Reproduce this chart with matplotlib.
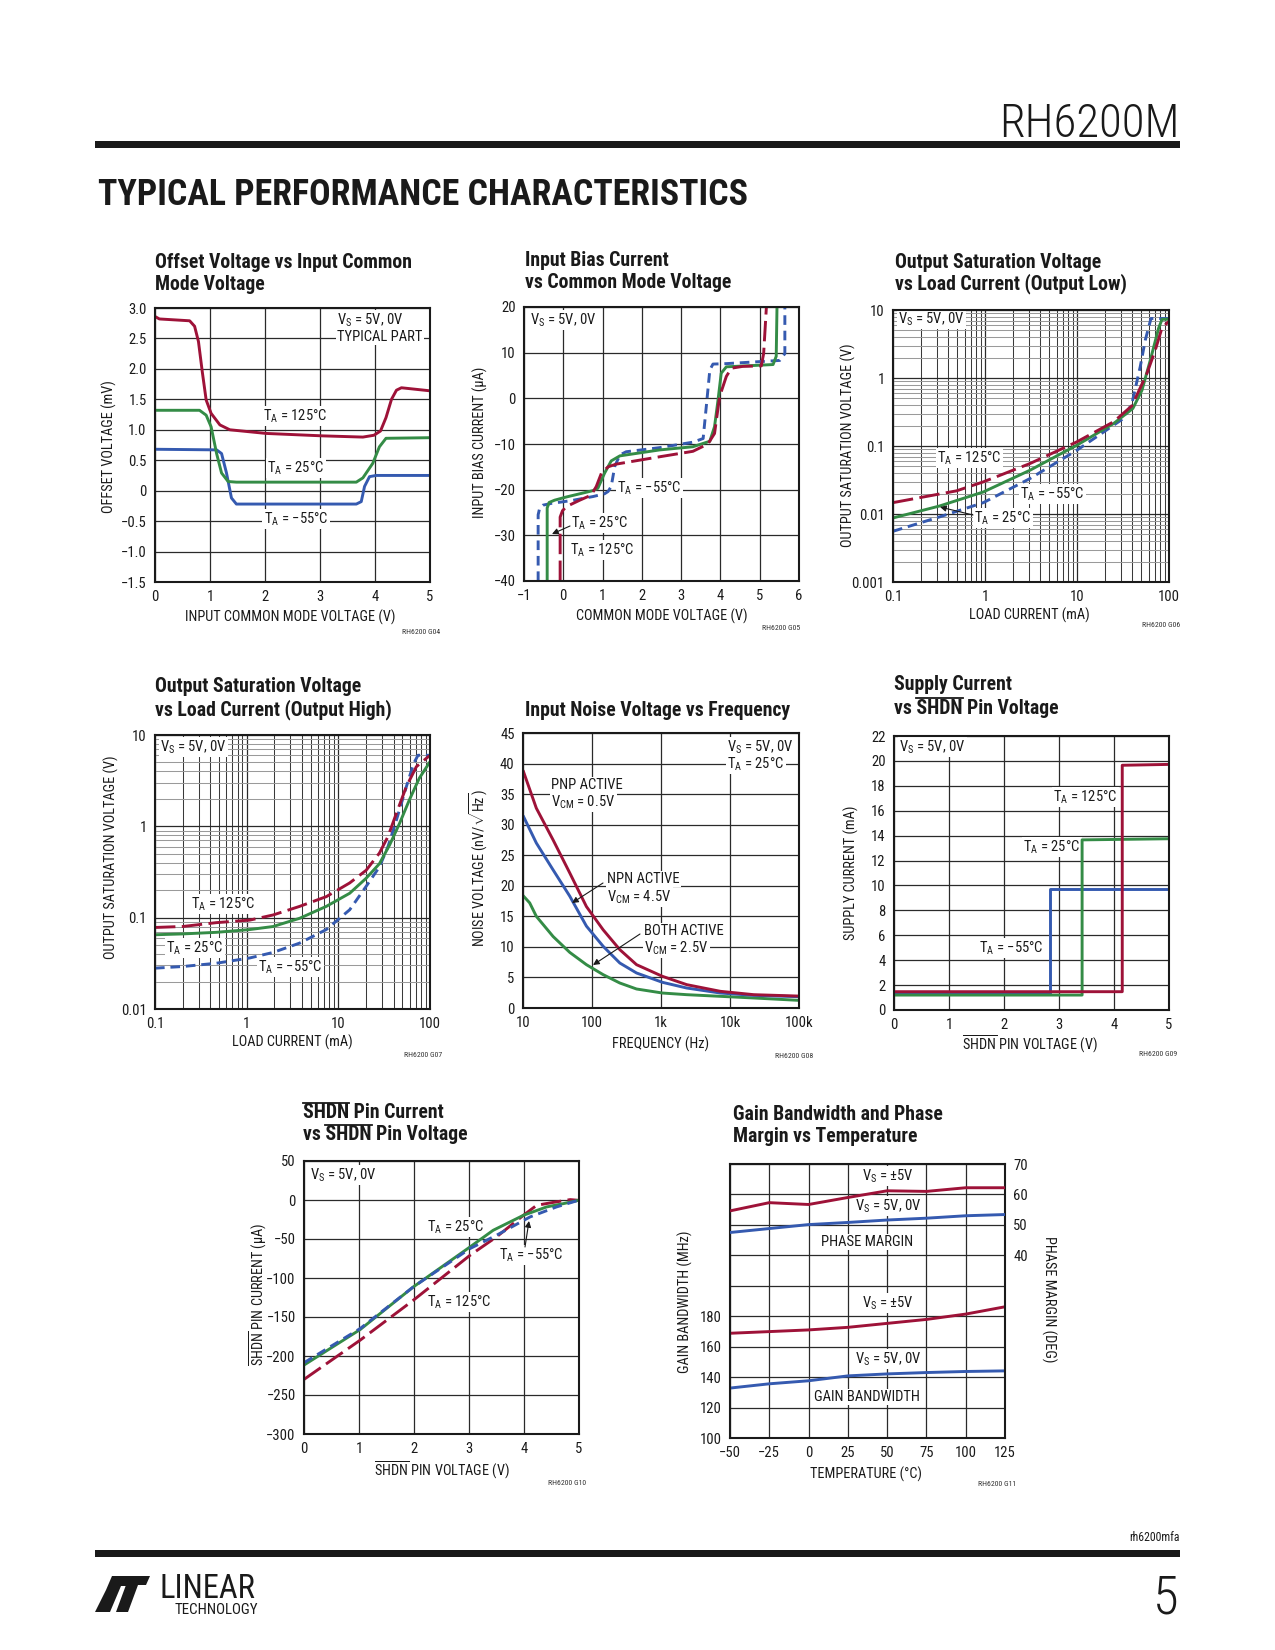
import matplotlib
matplotlib.use('Agg')
import matplotlib.pyplot as plt
from matplotlib import font_manager as fm
from matplotlib.ticker import FixedLocator, NullFormatter, LogLocator
from matplotlib.patches import Rectangle, Polygon
from matplotlib.lines import Line2D

# ======================= DATA =======================
# Chart 1: Offset voltage vs input common mode voltage (V, mV)
vos_x_125 = [0, 0.08, 0.63, 0.72, 0.79, 0.86, 0.93, 1.02, 1.18, 1.36, 2.02, 3.05, 3.78, 3.98, 4.1, 4.2, 4.3, 4.39, 4.48, 5.0]
vos_y_125 = [2.86, 2.82, 2.79, 2.7, 2.45, 1.95, 1.49, 1.27, 1.08, 1.0, 0.94, 0.9, 0.88, 0.91, 0.98, 1.2, 1.5, 1.65, 1.69, 1.64]
vos_x_25 = [0, 0.81, 0.93, 1.02, 1.12, 1.21, 1.33, 1.48, 3.66, 3.78, 3.96, 4.08, 4.2, 5.0]
vos_y_25 = [1.32, 1.32, 1.24, 1.05, 0.61, 0.29, 0.15, 0.14, 0.14, 0.21, 0.45, 0.72, 0.86, 0.87]
vos_x_m55 = [0, 1.12, 1.21, 1.3, 1.39, 1.48, 3.66, 3.75, 3.81, 3.9, 4.02, 5.0]
vos_y_m55 = [0.68, 0.67, 0.61, 0.29, -0.12, -0.22, -0.22, -0.18, 0.07, 0.23, 0.25, 0.25]

# Chart 2: Input bias current vs common mode voltage (V, uA)
ib_x_m55 = [-0.64, -0.64, -0.6, -0.52, -0.3, 0.2, 0.76, 1.05, 1.14, 1.22, 1.31, 1.44, 1.6, 2.45, 3.3, 3.56, 3.64, 3.73, 3.81, 4.15, 5.51, 5.64, 5.64]
ib_y_m55 = [-40, -25.5, -24.0, -23.4, -23.0, -22.4, -21.5, -20.9, -20.4, -19.3, -14.9, -12.4, -11.7, -10.8, -9.6, -8.8, -1.8, 6.2, 7.5, 7.6, 8.3, 9.8, 20]
ib_x_25 = [-0.41, -0.41, -0.36, -0.22, 0.08, 0.76, 0.88, 1.05, 1.22, 1.44, 2.45, 3.3, 3.73, 3.85, 3.94, 4.02, 4.15, 5.34, 5.42, 5.44]
ib_y_25 = [-40, -24, -22.8, -22.3, -21.6, -20.2, -19.7, -16.4, -13.7, -12.6, -11.3, -10.6, -9.4, -6.2, -0.3, 5.5, 6.9, 7.4, 9.2, 20]
ib_x_125 = [-0.08, -0.08, -0.02, 0.08, 0.42, 0.71, 0.84, 0.97, 1.14, 1.35, 2.45, 3.3, 3.68, 3.85, 3.98, 4.15, 4.28, 4.57, 5.04, 5.1, 5.17]
ib_y_125 = [-40, -26, -24.6, -23.7, -22.3, -21.2, -19.3, -16.4, -15, -14.4, -12.8, -11.6, -10, -7.7, 0.4, 4.8, 6.6, 7.0, 7.1, 9.8, 20]

# Chart 3: Output saturation voltage, output low (mA, V)
vol_x_125 = [0.1, 0.49, 0.96, 3.08, 9.96, 25, 39.5, 57.6, 71, 84, 100]
vol_y_125 = [0.0147, 0.0219, 0.0297, 0.0552, 0.115, 0.227, 0.39, 1.17, 2.58, 5.5, 6.8]
vol_x_25 = [0.1, 0.32, 0.96, 3.08, 10, 25, 40.5, 50.8, 62.7, 77, 84, 100]
vol_y_25 = [0.00875, 0.0131, 0.0211, 0.044, 0.103, 0.214, 0.357, 0.66, 1.84, 5.37, 7.3, 7.3]
vol_x_m55 = [0.1, 0.32, 0.96, 3.08, 10, 32, 39.5, 48.7, 55.2, 63.7, 100]
vol_y_m55 = [0.00557, 0.00906, 0.0147, 0.0332, 0.0869, 0.254, 0.42, 1.47, 3.6, 7.5, 7.5]

# Chart 4: Output saturation voltage, output high (mA, V)
voh_x_125 = [0.1, 0.202, 0.467, 1.08, 1.94, 3.79, 7.4, 13.3, 20.1, 28.1, 34.8, 43, 55.2, 71, 96, 100]
voh_y_125 = [0.0781, 0.0801, 0.0882, 0.094, 0.107, 0.133, 0.17, 0.24, 0.33, 0.51, 0.773, 1.39, 2.72, 4.5, 5.8, 5.9]
voh_x_25 = [0.1, 0.202, 0.467, 1.08, 1.94, 3.79, 7.4, 13.3, 20.1, 28.1, 36.4, 46.6, 59.6, 76.4, 100]
voh_y_25 = [0.065, 0.0664, 0.0691, 0.0741, 0.080, 0.0985, 0.133, 0.185, 0.27, 0.39, 0.63, 1.08, 1.95, 3.36, 5.1]
voh_x_m55 = [0.1, 0.202, 0.467, 1.08, 1.94, 3.79, 7.4, 13.3, 20.1, 28.1, 34.8, 43, 55.2, 66.5, 74, 100]
voh_y_m55 = [0.028, 0.0292, 0.0317, 0.0362, 0.0416, 0.0527, 0.0742, 0.122, 0.22, 0.36, 0.6, 1.17, 2.72, 4.9, 6.0, 6.0]

# Chart 5: Input noise voltage vs frequency (Hz, nV/rtHz)
en_f = [10, 15.6, 27.3, 47.6, 83, 145, 253, 442, 1050, 2360, 7240, 22000, 100000]
en_pnp = [38.9, 32.7, 27.5, 22.1, 16.6, 12.8, 9.55, 7.09, 5.18, 3.82, 2.73, 2.18, 1.95]
en_npn = [31.5, 27.0, 22.6, 18.3, 13.4, 10.1, 7.36, 5.73, 4.2, 3.27, 2.45, 2.07, 1.85]
en_f_both = [10, 12.5, 15.6, 27.3, 47.6, 83, 145, 253, 442, 1050, 2360, 7240, 22000, 100000]
en_both = [18.4, 17.2, 15.0, 11.7, 9.1, 7.09, 5.46, 4.09, 3.11, 2.45, 2.18, 1.91, 1.64, 1.25]

# Chart 6: Supply current vs SHDN pin voltage (V, mA)
is_x_m55 = [0, 2.84, 2.84, 5.0]
is_y_m55 = [1.35, 1.35, 9.7, 9.7]
is_x_25 = [0, 3.42, 3.42, 5.0]
is_y_25 = [1.2, 1.2, 13.66, 13.75]
is_x_125 = [0, 4.15, 4.15, 5.0]
is_y_125 = [1.47, 1.47, 19.65, 19.72]

# Chart 7: SHDN pin current vs SHDN pin voltage (V, uA)
sh_x_25 = [0, 1.023, 1.99, 3.02, 3.44, 3.99, 4.41, 4.72, 4.99]
sh_y_25 = [-211.6, -166, -111.3, -60.1, -38.8, -19.6, -8.9, -4.6, -0.4]
sh_x_m55 = [0, 1.023, 1.99, 3.02, 3.5, 4.11, 4.59, 4.99]
sh_y_m55 = [-208.6, -164.7, -111.3, -62.2, -45.2, -21.7, -8.9, -0.4]
sh_x_125 = [0, 1.023, 1.99, 3.02, 3.5, 3.99, 4.23, 4.47, 4.84, 4.99]
sh_y_125 = [-230, -179.6, -128.4, -70.8, -47.3, -19.6, -6.8, -3.8, 0.5, -0.4]

# Chart 8: Gain bandwidth and phase margin vs temperature
temp = [-50, -25, 0, 25, 50, 75, 100, 125]
pm_pm5 = [54.6, 57.3, 56.7, 59.0, 61.2, 61.0, 62.2, 62.2]
pm_50 = [47.5, 48.8, 50.1, 50.8, 51.6, 52.2, 53.0, 53.4]
gbw_pm5 = [168.8, 169.9, 171.0, 172.7, 175.3, 177.9, 181.4, 186.2]
gbw_50 = [132.8, 135.6, 137.6, 140.8, 142.1, 143.0, 143.7, 144.1]

# ======================= STYLE =======================
W, H = 1275, 1650
avail = {f.name for f in fm.fontManager.ttflist}
NARROW = next((f for f in ['Liberation Sans Narrow', 'Roboto Condensed', 'Open Sans Condensed']
               if f in avail), None)
SCALE = 1.0
if NARROW is None:
    NARROW = 'Liberation Sans' if 'Liberation Sans' in avail else 'DejaVu Sans'
    SCALE = 0.86
FAM = [NARROW, 'DejaVu Sans']
plt.rcParams['font.family'] = FAM
plt.rcParams['mathtext.fontset'] = 'custom'
plt.rcParams['mathtext.rm'] = NARROW
plt.rcParams['mathtext.it'] = NARROW + ':italic'
plt.rcParams['mathtext.bf'] = NARROW + ':bold'
plt.rcParams['axes.unicode_minus'] = True

RED = '#9e1238'
GREEN = '#348c46'
BLUE = '#355ab0'
INK = '#1a1a1a'
GRID = '#2a2a2a'
TICK_FS = 10.5 * SCALE
ANN_FS = 10.5 * SCALE
AX_FS = 10.3 * SCALE
LW = 2.1
LONG = (7, 2.2)
SHORT = (3.3, 2.0)

fig = plt.figure(figsize=(W / 100, H / 100), dpi=100)
renderer = fig.canvas.get_renderer()


def ftxt(x, y, s, **kw):
    kw.setdefault('color', INK)
    return fig.text(x / W, 1 - y / H, s, **kw)


def measure(s, fs, weight='normal'):
    t = fig.text(0, 0, s, fontsize=fs, fontweight=weight)
    bb = t.get_window_extent(renderer=renderer)
    t.remove()
    return bb


def fit_size(s, target_px, weight='normal', base=20.0):
    return base * target_px / measure(s, base, weight).width


def make_ax(rect):
    l, t, r, b = rect
    ax = fig.add_axes([l / W, 1 - b / H, (r - l) / W, (b - t) / H])
    ax._rect = rect
    for sp in ax.spines.values():
        sp.set_linewidth(1.5)
        sp.set_color(INK)
        sp.set_zorder(7)
    ax.tick_params(which='both', length=0, labelsize=TICK_FS, pad=6, colors=INK)
    ax.set_axisbelow(True)
    return ax


def px2ax(ax, x, y):
    l, t, r, b = ax._rect
    return (x - l) / (r - l), (b - y) / (b - t)


def lab(ax, x, y, s, ha='left', va='center', box=True):
    kw = dict(transform=ax.transAxes, ha=ha, va=va, fontsize=ANN_FS, color=INK, zorder=3)
    if box:
        kw['bbox'] = dict(facecolor='white', edgecolor='none', pad=1.0)
    ax.text(*px2ax(ax, x, y), s, **kw)


def arrow(ax, x0, y0, x1, y1):
    ax.annotate('', xy=px2ax(ax, x1, y1), xytext=px2ax(ax, x0, y0),
                xycoords='axes fraction', textcoords='axes fraction',
                arrowprops=dict(arrowstyle='-|>', color=INK, lw=0.8, mutation_scale=9,
                                shrinkA=0, shrinkB=0), zorder=8)


def line(ax, x, y, color, dash=None, axis=None):
    a = axis or ax
    kw = dict(color=color, lw=LW, zorder=5, solid_capstyle='butt', dash_capstyle='butt',
              solid_joinstyle='round', clip_on=True)
    if dash:
        kw['dashes'] = dash
    a.plot(x, y, **kw)


def title_line(x, y, s, fs, over=None):
    """Bold title line; `over` = substring that gets an overline."""
    t = ftxt(x, y, s, fontsize=fs, fontweight='bold', ha='left', va='center')
    if over:
        i = s.index(over)
        pre = s[:i + len(over)]
        w_pre = measure(pre, fs, 'bold').width
        w_ov = measure(over, fs, 'bold').width
        bb = t.get_window_extent(renderer=renderer)
        ytop = H - bb.y1 - 1.0
        x0 = x + w_pre - w_ov
        fig.add_artist(Line2D([x0 / W, (x0 + w_ov) / W], [1 - ytop / H, 1 - ytop / H],
                              transform=fig.transFigure, color=INK, lw=1.3))


def title(x, lines, ys, fs, overs=None):
    overs = overs or [None] * len(lines)
    for s, y, o in zip(lines, ys, overs):
        title_line(x, y, s, fs, o)


def foot(xr, y, s):
    ftxt(xr, y, s, fontsize=5.6 * SCALE, ha='right', va='center', color='#333333')


def set_ticks(ax, xt, xl, yt, yl):
    ax.xaxis.set_major_locator(FixedLocator(xt))
    ax.set_xticklabels(xl)
    ax.yaxis.set_major_locator(FixedLocator(yt))
    ax.set_yticklabels(yl)


VS = r'V$_\mathrm{S}$ = 5V, 0V'
def TA(s):
    return r'T$_\mathrm{A}$ = ' + s

TITLE_FS = fit_size('Offset Voltage vs Input Common', 257, weight='bold')

# ======================= HEADER / FOOTER =======================
fs = fit_size('RH6200M', 181, weight='light')
ftxt(1180, 137, 'RH6200M', fontsize=fs, fontweight='light', ha='right', va='baseline')
fig.add_artist(Rectangle((95 / W, 1 - 147.5 / H), (1180 - 95) / W, 6.5 / H,
                         transform=fig.transFigure, color=INK, lw=0))
fs = fit_size('TYPICAL PERFORMANCE CHARACTERISTICS', 651, weight='heavy')
ftxt(98, 205, 'TYPICAL PERFORMANCE CHARACTERISTICS', fontsize=fs, fontweight='heavy',
     ha='left', va='baseline')

fig.add_artist(Rectangle((95 / W, 1 - 1556.5 / H), (1180 - 95) / W, 6.5 / H,
                         transform=fig.transFigure, color=INK, lw=0))
ftxt(1180, 1541, 'rh6200mfa', fontsize=8.5 * SCALE, ha='right', va='baseline')
ftxt(1179, 1613, '5', fontsize=38, fontweight='light', ha='right', va='baseline')
# logo
def P(pts):
    return [(x / W, 1 - y / H) for x, y in pts]
fig.add_artist(Polygon(P([(95, 1612), (110, 1612), (121, 1586), (129, 1586), (133, 1576),
                          (112, 1576), (106, 1590)]), closed=True, transform=fig.transFigure,
                       color=INK, lw=0))
fig.add_artist(Polygon(P([(118, 1576), (150, 1576), (146, 1585), (138, 1585), (128, 1612),
                          (116, 1612), (126, 1585), (114, 1585)]), closed=True,
                       transform=fig.transFigure, color=INK, lw=0))
fs = fit_size('LINEAR', 96)
ftxt(159, 1598, 'LINEAR', fontsize=fs, ha='left', va='baseline')
fs = fit_size('TECHNOLOGY', 84)
ftxt(175, 1614, 'TECHNOLOGY', fontsize=fs, ha='left', va='baseline')

# ======================= CHART 1 =======================
ax = make_ax((155, 308, 430, 582))
ax.set_xlim(0, 5); ax.set_ylim(-1.5, 3.0)
set_ticks(ax, [0, 1, 2, 3, 4, 5], ['0', '1', '2', '3', '4', '5'],
          [3.0, 2.5, 2.0, 1.5, 1.0, 0.5, 0, -0.5, -1.0, -1.5],
          ['3.0', '2.5', '2.0', '1.5', '1.0', '0.5', '0', '\u22120.5', '\u22121.0', '\u22121.5'])
ax.grid(True, color=GRID, lw=0.9)
line(ax, vos_x_m55, vos_y_m55, BLUE)
line(ax, vos_x_25, vos_y_25, GREEN)
line(ax, vos_x_125, vos_y_125, RED)
lab(ax, 337, 320, VS)
lab(ax, 337, 337, 'TYPICAL PART')
lab(ax, 295, 416, TA('125°C'), ha='center')
lab(ax, 296, 468, TA('25°C'), ha='center')
lab(ax, 296, 519, TA('\u221255°C'), ha='center')
title(155, ['Offset Voltage vs Input Common', 'Mode Voltage'], [262, 285], TITLE_FS)
ftxt(290, 617, 'INPUT COMMON MODE VOLTAGE (V)', fontsize=AX_FS, ha='center', va='center')
ftxt(109, 447, 'OFFSET VOLTAGE (mV)', fontsize=AX_FS, ha='center', va='center', rotation=90)
foot(440, 632, 'RH6200 G04')

# ======================= CHART 2 =======================
ax = make_ax((524, 307, 799, 581))
ax.set_xlim(-1, 6); ax.set_ylim(-40, 20)
set_ticks(ax, [-1, 0, 1, 2, 3, 4, 5, 6], ['\u22121', '0', '1', '2', '3', '4', '5', '6'],
          [20, 10, 0, -10, -20, -30, -40],
          ['20', '10', '0', '\u221210', '\u221220', '\u221230', '\u221240'])
ax.grid(True, color=GRID, lw=0.9)
line(ax, ib_x_m55, ib_y_m55, BLUE, SHORT)
line(ax, ib_x_25, ib_y_25, GREEN)
line(ax, ib_x_125, ib_y_125, RED, LONG)
lab(ax, 530, 320, VS)
lab(ax, 617, 488, TA('\u221255°C'))
lab(ax, 571, 523, TA('25°C'))
lab(ax, 570, 550, TA('125°C'))
arrow(ax, 570, 526, 552, 534)
title(525, ['Input Bias Current', 'vs Common Mode Voltage'], [260, 282], TITLE_FS)
ftxt(662, 616, 'COMMON MODE VOLTAGE (V)', fontsize=AX_FS, ha='center', va='center')
ftxt(480, 442, 'INPUT BIAS CURRENT (µA)', fontsize=AX_FS, ha='center', va='center', rotation=90)
foot(800, 628, 'RH6200 G05')


def log_grid(ax):
    ax.set_xscale('log'); ax.set_yscale('log')
    ax.xaxis.set_minor_locator(LogLocator(base=10, subs=range(2, 10)))
    ax.yaxis.set_minor_locator(LogLocator(base=10, subs=range(2, 10)))
    ax.xaxis.set_minor_formatter(NullFormatter())
    ax.yaxis.set_minor_formatter(NullFormatter())
    ax.grid(True, which='major', color=GRID, lw=0.9)
    ax.grid(True, which='minor', axis='x', color='#3a3a3a', lw=0.75)
    ax.grid(True, which='minor', axis='y', color='#9a9a9a', lw=0.75)


# ======================= CHART 3 =======================
ax = make_ax((893, 310, 1169, 582))
log_grid(ax)
ax.set_xlim(0.1, 100); ax.set_ylim(0.001, 10)
set_ticks(ax, [0.1, 1, 10, 100], ['0.1', '1', '10', '100'],
          [10, 1, 0.1, 0.01, 0.001], ['10', '1', '0.1', '0.01', '0.001'])
line(ax, vol_x_m55, vol_y_m55, BLUE, SHORT)
line(ax, vol_x_25, vol_y_25, GREEN)
line(ax, vol_x_125, vol_y_125, RED, LONG)
lab(ax, 898, 319, VS)
lab(ax, 937, 458, TA('125°C'))
lab(ax, 1020, 494, TA('\u221255°C'))
lab(ax, 974, 518, TA('25°C'))
arrow(ax, 973, 515, 940, 507)
title(895, ['Output Saturation Voltage', 'vs Load Current (Output Low)'], [262, 284], TITLE_FS)
ftxt(1029, 615, 'LOAD CURRENT (mA)', fontsize=AX_FS, ha='center', va='center')
ftxt(848, 445, 'OUTPUT SATURATION VOLTAGE (V)', fontsize=AX_FS, ha='center', va='center',
     rotation=90)
foot(1180, 625, 'RH6200 G06')

# ======================= CHART 4 =======================
ax = make_ax((155, 735, 430, 1009))
log_grid(ax)
ax.set_xlim(0.1, 100); ax.set_ylim(0.01, 10)
set_ticks(ax, [0.1, 1, 10, 100], ['0.1', '1', '10', '100'],
          [10, 1, 0.1, 0.01], ['10', '1', '0.1', '0.01'])
line(ax, voh_x_m55, voh_y_m55, BLUE, SHORT)
line(ax, voh_x_25, voh_y_25, GREEN)
line(ax, voh_x_125, voh_y_125, RED, LONG)
lab(ax, 160, 747, VS)
lab(ax, 191, 904, TA('125°C'))
lab(ax, 166, 948, TA('25°C'))
lab(ax, 258, 967, TA('\u221255°C'))
title(155, ['Output Saturation Voltage', 'vs Load Current (Output High)'], [687, 710], TITLE_FS)
ftxt(292, 1042, 'LOAD CURRENT (mA)', fontsize=AX_FS, ha='center', va='center')
ftxt(111, 857, 'OUTPUT SATURATION VOLTAGE (V)', fontsize=AX_FS, ha='center', va='center',
     rotation=90)
foot(442, 1055, 'RH6200 G07')

# ======================= CHART 5 =======================
ax = make_ax((523, 733, 799, 1008))
ax.set_xscale('log')
ax.set_xlim(10, 100000); ax.set_ylim(0, 45)
ax.xaxis.set_minor_locator(FixedLocator([]))
set_ticks(ax, [10, 100, 1000, 10000, 100000], ['10', '100', '1k', '10k', '100k'],
          list(range(0, 46, 5)), [str(v) for v in range(0, 46, 5)])
ax.grid(True, which='major', color=GRID, lw=0.9)
line(ax, en_f_both, en_both, GREEN)
line(ax, en_f, en_npn, BLUE)
line(ax, en_f, en_pnp, RED)
lab(ax, 727, 747, VS)
lab(ax, 727, 764, TA('25°C'))
lab(ax, 551, 785, 'PNP ACTIVE')
lab(ax, 551, 802, r'V$_\mathrm{CM}$ = 0.5V')
lab(ax, 607, 879, 'NPN ACTIVE')
lab(ax, 607, 897, r'V$_\mathrm{CM}$ = 4.5V')
lab(ax, 644, 931, 'BOTH ACTIVE')
lab(ax, 644, 948, r'V$_\mathrm{CM}$ = 2.5V')
arrow(ax, 603, 883, 572, 903)
arrow(ax, 640, 934, 593, 965)
title(525, ['Input Noise Voltage vs Frequency'], [710], TITLE_FS)
ftxt(661, 1044, 'FREQUENCY (Hz)', fontsize=AX_FS, ha='center', va='center')
ftxt(479, 868, r'NOISE VOLTAGE (nV/$\sqrt{\mathrm{Hz}}$)', fontsize=AX_FS, ha='center',
     va='center', rotation=90)
foot(813, 1056, 'RH6200 G08')

# ======================= CHART 6 =======================
ax = make_ax((894, 736, 1169, 1010))
ax.set_xlim(0, 5); ax.set_ylim(0, 22)
set_ticks(ax, [0, 1, 2, 3, 4, 5], ['0', '1', '2', '3', '4', '5'],
          list(range(0, 23, 2)), [str(v) for v in range(0, 23, 2)])
ax.grid(True, color=GRID, lw=0.9)
line(ax, is_x_m55, is_y_m55, BLUE)
line(ax, is_x_25, is_y_25, GREEN)
line(ax, is_x_125, is_y_125, RED)
lab(ax, 899, 747, VS)
lab(ax, 1053, 797, TA('125°C'))
lab(ax, 1023, 847, TA('25°C'))
lab(ax, 979, 948, TA('\u221255°C'))
title(894, ['Supply Current', 'vs SHDN Pin Voltage'], [685, 708], TITLE_FS, [None, 'SHDN'])
ftxt(1030, 1044, r'$\overline{\mathrm{SHDN}}$ PIN VOLTAGE (V)', fontsize=AX_FS, ha='center',
     va='center')
ftxt(851, 873, 'SUPPLY CURRENT (mA)', fontsize=AX_FS, ha='center', va='center', rotation=90)
foot(1177, 1054, 'RH6200 G09')

# ======================= CHART 7 =======================
ax = make_ax((304, 1161, 579, 1434))
ax.set_xlim(0, 5); ax.set_ylim(-300, 50)
set_ticks(ax, [0, 1, 2, 3, 4, 5], ['0', '1', '2', '3', '4', '5'],
          list(range(50, -301, -50)),
          ['50', '0'] + ['\u2212%d' % v for v in range(50, 301, 50)])
ax.grid(True, color=GRID, lw=0.9)
line(ax, sh_x_125, sh_y_125, RED, LONG)
line(ax, sh_x_25, sh_y_25, GREEN)
line(ax, sh_x_m55, sh_y_m55, BLUE, SHORT)
lab(ax, 310, 1175, VS)
lab(ax, 427, 1227, TA('25°C'))
lab(ax, 499, 1255, TA('\u221255°C'))
lab(ax, 427, 1302, TA('125°C'))
arrow(ax, 525, 1247, 529, 1221)
title(303, ['SHDN Pin Current', 'vs SHDN Pin Voltage'], [1113, 1135], TITLE_FS,
      ['SHDN', 'SHDN'])
ftxt(442, 1470, r'$\overline{\mathrm{SHDN}}$ PIN VOLTAGE (V)', fontsize=AX_FS, ha='center',
     va='center')
ftxt(258, 1294, r'$\overline{\mathrm{SHDN}}$ PIN CURRENT (µA)', fontsize=AX_FS, ha='center',
     va='center', rotation=90)
foot(586, 1483, 'RH6200 G10')

# ======================= CHART 8 =======================
ax = make_ax((730, 1164, 1005, 1438))
ax.set_xlim(-50, 125); ax.set_ylim(100, 280)
set_ticks(ax, list(range(-50, 126, 25)),
          ['\u221250', '\u221225', '0', '25', '50', '75', '100', '125'],
          list(range(100, 281, 20)),
          ['100', '120', '140', '160', '180', '', '', '', '', ''])
ax.grid(True, color=GRID, lw=0.9)
ax2 = ax.twinx()
ax2._rect = ax._rect
ax2.set_ylim(-20, 70)
ax2.yaxis.set_major_locator(FixedLocator([40, 50, 60, 70]))
ax2.set_yticklabels(['40', '50', '60', '70'])
ax2.tick_params(which='both', length=0, labelsize=TICK_FS, pad=6, colors=INK)
for sp in ax2.spines.values():
    sp.set_visible(False)
line(ax, temp, gbw_pm5, RED)
line(ax, temp, gbw_50, BLUE)
line(ax, temp, pm_pm5, RED, axis=ax2)
line(ax, temp, pm_50, BLUE, axis=ax2)
VPM = r'V$_\mathrm{S}$ = ±5V'
lab(ax, 888, 1176, VPM, ha='center')
lab(ax, 888, 1206, VS, ha='center')
lab(ax, 867, 1242, 'PHASE MARGIN', ha='center')
lab(ax, 888, 1303, VPM, ha='center')
lab(ax, 888, 1359, VS, ha='center')
lab(ax, 867, 1397, 'GAIN BANDWIDTH', ha='center')
title(733, ['Gain Bandwidth and Phase', 'Margin vs Temperature'], [1114, 1137], TITLE_FS)
ftxt(866, 1474, 'TEMPERATURE (°C)', fontsize=AX_FS, ha='center', va='center')
ftxt(685, 1302, 'GAIN BANDWIDTH (MHz)', fontsize=AX_FS, ha='center', va='center', rotation=90)
ftxt(1049, 1299, 'PHASE MARGIN (DEG)', fontsize=AX_FS, ha='center', va='center', rotation=-90)
foot(1016, 1484, 'RH6200 G11')

fig.savefig('out.png', dpi=100, facecolor='white')
